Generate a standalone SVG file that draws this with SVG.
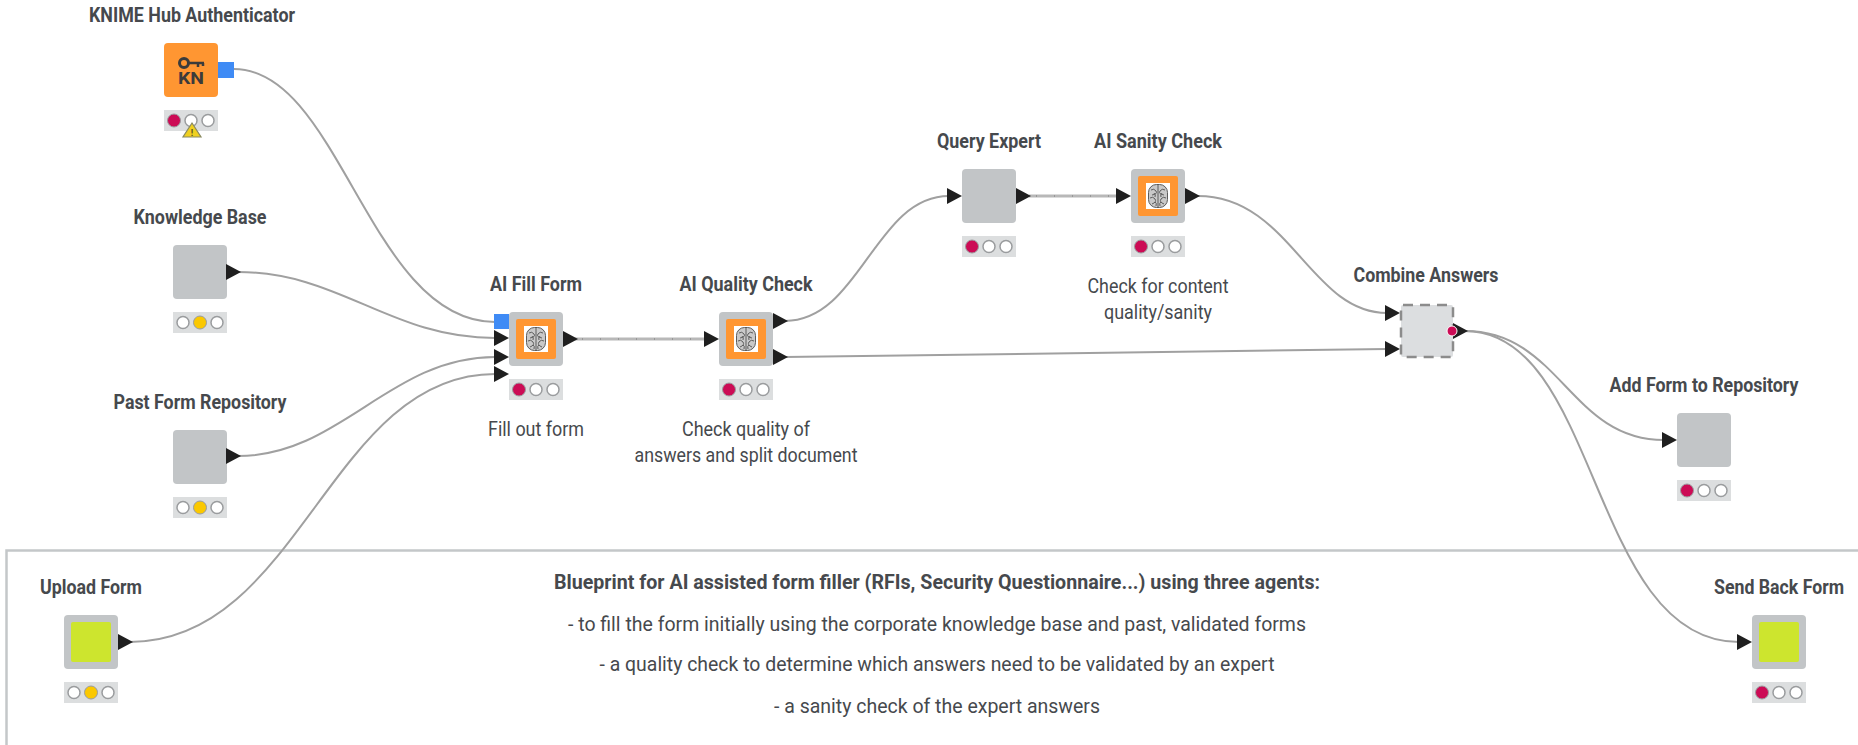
<svg xmlns="http://www.w3.org/2000/svg" width="1858" height="745" viewBox="0 0 1858 745">
<style>
text{font-family:Roboto,"Liberation Sans",sans-serif;fill:#46494d;text-anchor:middle}
.t{font-size:20px;font-weight:700}
.d{font-size:20px;font-weight:400}
.box{fill:#c2c5c7}
.tl{fill:#dcdedf}
.off{fill:#fff;stroke:#9a9c9e;stroke-width:1.500}
.red{fill:#cc0b55;stroke:#9a9c9e;stroke-width:1}
.yel{fill:#fbc800;stroke:#9a9c9e;stroke-width:1}
.c{fill:none;stroke:#a0a0a0;stroke-width:2}
.s{fill:none;stroke:#b8b8b8;stroke-width:3}
.k{fill:none;stroke:#777;stroke-width:1;stroke-dasharray:1 17}
.p{fill:#1f1f1f}
.b{fill:#3f8bf5}
.o{fill:#ff9632}
.g{fill:#cde52e}
</style>
<defs>
<polygon id="port" class="p" points="0,-8 15,0 0,8"/>
<g id="lr"><rect class="tl" width="54" height="21"/><circle class="red" cx="10" cy="10.500" r="6.500"/><circle class="off" cx="27" cy="10.500" r="6"/><circle class="off" cx="44" cy="10.500" r="6"/></g>
<g id="ly"><rect class="tl" width="54" height="21"/><circle class="off" cx="10" cy="10.500" r="6"/><circle class="yel" cx="27" cy="10.500" r="6.500"/><circle class="off" cx="44" cy="10.500" r="6"/></g>
<g id="brain"><rect class="box" width="54" height="54" rx="4"/><rect class="o" x="7" y="7" width="40" height="40" rx="2"/><rect x="15" y="14" width="24" height="26" fill="#fff"/><rect x="17.500" y="15.500" width="19" height="23" rx="8" fill="#c9c9c9" stroke="#5c5c5c" stroke-width="1"/><path d="M27 16V38M20 21Q23 19 25 22T21 26M34 21Q31 19 29 22T33 26M19 29Q22 27 24 30T21 35M35 29Q32 27 30 30T33 35M23 24Q25 26 24 28M31 24Q29 26 30 28M24 33Q26 34 25 37M30 33Q28 34 29 37" stroke="#5c5c5c" stroke-width="1" fill="none"/></g>
<rect id="plain" class="box" width="54" height="54" rx="4"/>
<g id="io"><rect class="box" width="54" height="54" rx="4"/><rect class="g" x="7" y="7" width="40" height="40" rx="2"/></g>
</defs>
<rect width="1858" height="745" fill="#fff"/>
<path id="frame" d="M6.500 745V550.500H1858" fill="none" stroke="#c4c7c9" stroke-width="2.500"/>
<g id="connectors">
<path class="c" d="M234 69C340 69 370 322 495 322"/>
<path class="c" d="M238 272C340 272 390 338 495 338"/>
<path class="c" d="M238 456C340 456 390 357 495 357"/>
<path class="c" d="M130 642C300 642 330 374 495 374"/>
<path class="s" d="M575 339H706"/><path class="k" d="M582 339H704"/>
<path class="c" d="M785 321C860 321 875 196 949 196"/>
<path class="c" d="M785 357L1387 349"/>
<path class="s" d="M1029 196H1118"/><path class="k" d="M1036 196H1116"/>
<path class="c" d="M1198 196C1290 196 1310 313 1387 313"/>
<path class="c" d="M1465 331C1560 331 1570 440 1664 440"/>
<path class="c" d="M1465 331C1600 331 1590 642 1739 642"/>
</g>
<g id="n-auth"><text class="t" x="192" y="22" textLength="206" lengthAdjust="spacingAndGlyphs">KNIME Hub Authenticator</text>
<rect class="o" x="164" y="43" width="54" height="54" rx="4"/>
<rect class="b" x="218" y="62" width="16" height="16"/>
<circle cx="184" cy="63" r="4.500" fill="none" stroke="#3b3b3b" stroke-width="3"/><path d="M189 63H204M198 63V67M203 63V66" stroke="#3b3b3b" stroke-width="2.500" fill="none"/>
<text x="191" y="84" textLength="26" lengthAdjust="spacingAndGlyphs" style="font-size:16px;font-weight:700;fill:#3b3b3b">KN</text>
<use href="#lr" x="164" y="110"/>
<polygon points="192,123 201,137 183,137" fill="#f0d020" stroke="#8a8a60" stroke-width="1.200"/><text x="192" y="136" style="font-size:9px;font-weight:700;fill:#5a5020">!</text></g>
<g id="n-kb"><text class="t" x="200" y="224" textLength="133" lengthAdjust="spacingAndGlyphs">Knowledge Base</text><use href="#plain" x="173" y="245"/><use href="#port" x="226" y="272"/><use href="#ly" x="173" y="312"/></g>
<g id="n-past"><text class="t" x="200" y="409" textLength="173" lengthAdjust="spacingAndGlyphs">Past Form Repository</text><use href="#plain" x="173" y="430"/><use href="#port" x="226" y="456"/><use href="#ly" x="173" y="497"/></g>
<g id="n-upload"><text class="t" x="91" y="594" textLength="102" lengthAdjust="spacingAndGlyphs">Upload Form</text><use href="#io" x="64" y="615"/><use href="#port" x="118" y="642"/><use href="#ly" x="64" y="682"/></g>
<g id="n-fill"><text class="t" x="536" y="291" textLength="92" lengthAdjust="spacingAndGlyphs">AI Fill Form</text>
<rect class="b" x="494" y="314" width="15" height="15"/><use href="#port" x="494" y="338"/><use href="#port" x="494" y="357"/><use href="#port" x="494" y="374"/>
<use href="#brain" x="509" y="312"/><use href="#port" x="563" y="339"/><use href="#lr" x="509" y="379"/>
<text class="d" x="536" y="436" textLength="96" lengthAdjust="spacingAndGlyphs">Fill out form</text></g>
<g id="n-quality"><text class="t" x="746" y="291" textLength="133" lengthAdjust="spacingAndGlyphs">AI Quality Check</text>
<use href="#port" x="704" y="339"/><use href="#brain" x="719" y="312"/><use href="#port" x="773" y="321"/><use href="#port" x="773" y="357"/><use href="#lr" x="719" y="379"/>
<text class="d" x="746" y="436" textLength="128" lengthAdjust="spacingAndGlyphs">Check quality of</text><text class="d" x="746" y="462" textLength="223" lengthAdjust="spacingAndGlyphs">answers and split document</text></g>
<g id="n-query"><text class="t" x="989" y="148" textLength="104" lengthAdjust="spacingAndGlyphs">Query Expert</text><use href="#port" x="947" y="196"/><use href="#plain" x="962" y="169"/><use href="#port" x="1016" y="196"/><use href="#lr" x="962" y="236"/></g>
<g id="n-sanity"><text class="t" x="1158" y="148" textLength="128" lengthAdjust="spacingAndGlyphs">AI Sanity Check</text><use href="#port" x="1116" y="196"/><use href="#brain" x="1131" y="169"/><use href="#port" x="1185" y="196"/><use href="#lr" x="1131" y="236"/>
<text class="d" x="1158" y="293" textLength="141" lengthAdjust="spacingAndGlyphs">Check for content</text><text class="d" x="1158" y="319" textLength="108" lengthAdjust="spacingAndGlyphs">quality/sanity</text></g>
<g id="n-combine"><text class="t" x="1426" y="282" textLength="145" lengthAdjust="spacingAndGlyphs">Combine Answers</text><use href="#port" x="1385" y="313"/><use href="#port" x="1385" y="349"/>
<rect x="1401" y="305" width="52" height="52" rx="2" fill="#dcdee0" stroke="#8c8c8c" stroke-width="2.500" stroke-dasharray="10 7"/><use href="#port" x="1453" y="331"/><circle cx="1452" cy="331" r="5" fill="#cc0b55" stroke="#fff" stroke-width="1"/></g>
<g id="n-add"><text class="t" x="1704" y="392" textLength="189" lengthAdjust="spacingAndGlyphs">Add Form to Repository</text><use href="#port" x="1662" y="440"/><use href="#plain" x="1677" y="413"/><use href="#lr" x="1677" y="480"/></g>
<g id="n-send"><text class="t" x="1779" y="594" textLength="130" lengthAdjust="spacingAndGlyphs">Send Back Form</text><use href="#port" x="1737" y="642"/><use href="#io" x="1752" y="615"/><use href="#lr" x="1752" y="682"/></g>
<g id="note">
<text class="t" x="937" y="589" textLength="766" lengthAdjust="spacingAndGlyphs">Blueprint for AI assisted form filler (RFIs, Security Questionnaire...) using three agents:</text>
<text class="d" x="937" y="631" textLength="738" lengthAdjust="spacingAndGlyphs">- to fill the form initially using the corporate knowledge base and past, validated forms</text>
<text class="d" x="937" y="671" textLength="675" lengthAdjust="spacingAndGlyphs">- a quality check to determine which answers need to be validated by an expert</text>
<text class="d" x="937" y="713" textLength="326" lengthAdjust="spacingAndGlyphs">- a sanity check of the expert answers</text>
</g>
</svg>
